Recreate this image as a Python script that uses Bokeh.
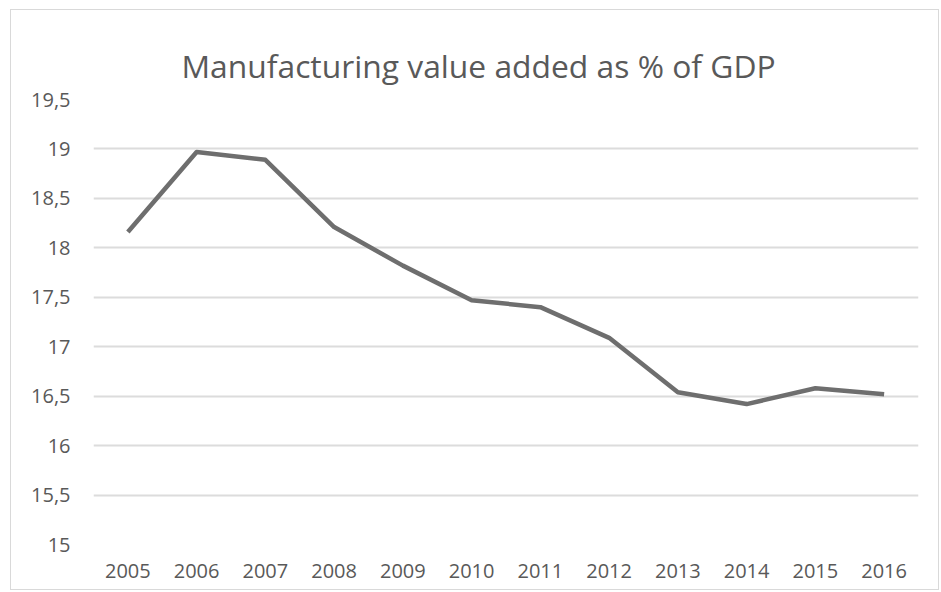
from bokeh.plotting import figure
from bokeh.models import FactorRange, Range1d, FixedTicker, Title
from bokeh.embed import file_html
from bokeh.resources import INLINE

title_text = "Manufacturing value added as % of GDP"
years = ["2005", "2006", "2007", "2008", "2009", "2010",
         "2011", "2012", "2013", "2014", "2015", "2016"]
values = [18.16, 18.97, 18.89, 18.21, 17.82, 17.47,
          17.40, 17.09, 16.54, 16.42, 16.58, 16.52]
y_ticks = [15, 15.5, 16, 16.5, 17, 17.5, 18, 18.5, 19, 19.5]
y_tick_labels = ["15", "15,5", "16", "16,5", "17", "17,5", "18", "18,5", "19", "19,5"]

FONT = "Open Sans"
TXT = "#595959"

p = figure(width=929, height=581, output_backend="svg", toolbar_location=None,
           x_range=FactorRange(factors=years, range_padding=0),
           y_range=Range1d(15, 19.5),
           min_border_left=82, min_border_right=22, min_border_top=89, min_border_bottom=47,
           styles={"margin": "9px 0 0 10px", "border": "1px solid #d9d9d9"})

p.outline_line_color = None
p.background_fill_color = "white"
p.border_fill_color = "white"

for ax in (p.xaxis, p.yaxis):
    ax.axis_line_color = None
    ax.major_tick_line_color = None
    ax.minor_tick_line_color = None
    ax.major_label_text_font = FONT
    ax.major_label_text_font_size = "20px"
    ax.major_label_text_color = TXT

p.yaxis.ticker = FixedTicker(ticks=y_ticks)
p.yaxis.major_label_overrides = {t: l for t, l in zip(y_ticks, y_tick_labels)}
p.yaxis.major_label_standoff = 17
p.xaxis.major_label_standoff = 13

p.xgrid.grid_line_color = None
p.ygrid.ticker = FixedTicker(ticks=y_ticks)
p.ygrid.grid_line_color = "#dcdcdc"
p.ygrid.grid_line_width = 2

p.line(x=years, y=values, line_color="#6e6e6e", line_width=4.5, line_join="round")

main_title = Title(text=title_text, text_font=FONT, text_font_size="31.8px",
                   text_font_style="normal", text_color=TXT,
                   align="left", offset=88, standoff=25)
p.add_layout(main_title, "above")
spacer = Title(text=".", text_font_size="1px", text_alpha=0, standoff=17)
p.add_layout(spacer, "above")

open("out.html", "w").write(file_html(p, INLINE))
